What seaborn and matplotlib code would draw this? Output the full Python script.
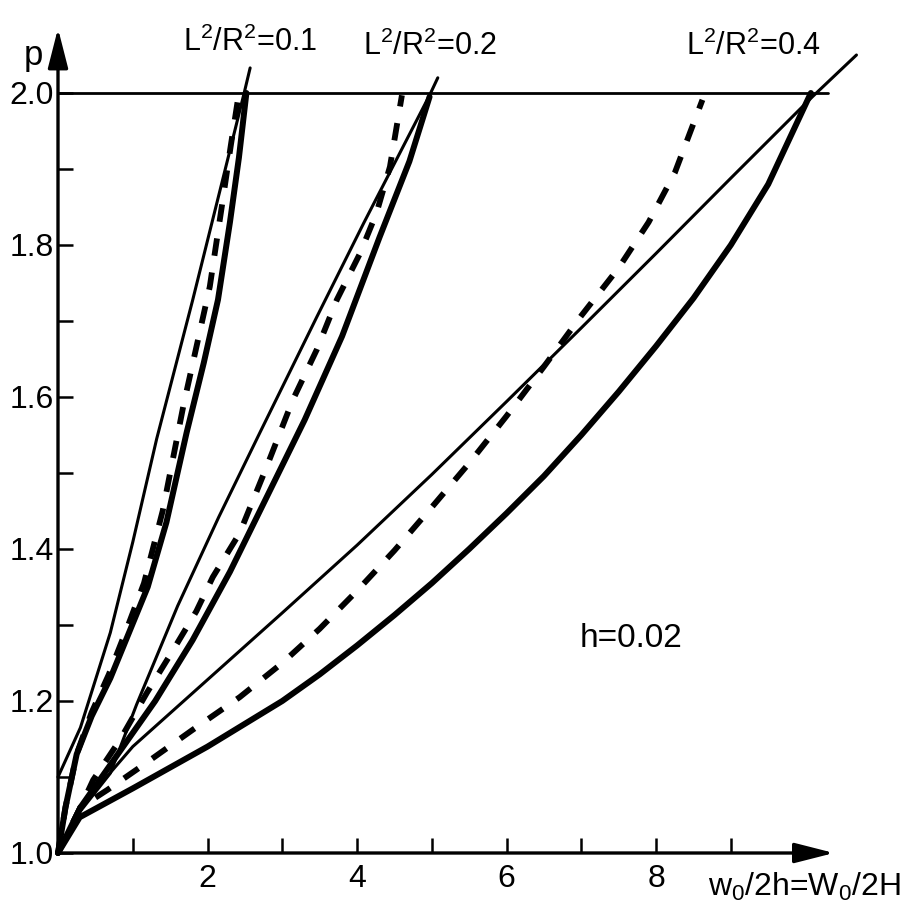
import numpy as np
import pandas as pd
import seaborn as sns
import matplotlib.pyplot as plt
from matplotlib.ticker import FixedLocator

# curves: x = w0/2h, p
thin01_x = [0, 0.3, 0.7, 1.0, 1.32, 1.8, 2.2, 2.49, 2.57]
thin01_p = [1.10, 1.165, 1.29, 1.409, 1.545, 1.727, 1.885, 2.0, 2.033]
dash01_x = [0, 0.1, 0.25, 0.45, 0.68, 0.92, 1.15, 1.4, 1.68, 2.03, 2.19, 2.31, 2.42]
dash01_p = [1.0, 1.06, 1.13, 1.185, 1.235, 1.295, 1.355, 1.45, 1.59, 1.745, 1.85, 1.93, 2.0]
thick01_x = [0, 0.1, 0.25, 0.45, 0.7, 0.95, 1.2, 1.45, 1.72, 1.95, 2.14, 2.3, 2.42, 2.52]
thick01_p = [1.0, 1.06, 1.13, 1.18, 1.23, 1.29, 1.35, 1.435, 1.553, 1.645, 1.728, 1.83, 1.915, 2.0]

thin02_x = [0, 0.3, 0.7, 1.05, 1.6, 2.15, 2.7, 3.46, 4.09, 4.97, 5.08]
thin02_p = [1.0, 1.055, 1.105, 1.195, 1.325, 1.442, 1.553, 1.705, 1.829, 1.997, 2.02]
dash02_x = [0, 0.3, 0.47, 0.83, 1.19, 1.54, 1.85, 2.07, 2.43, 2.79, 3.14, 3.46, 3.73, 4.04, 4.26, 4.44, 4.60]
dash02_p = [1.0, 1.06, 1.096, 1.149, 1.211, 1.267, 1.318, 1.363, 1.421, 1.508, 1.596, 1.662, 1.728, 1.789,
            1.842, 1.903, 1.997]
thick02_x = [0, 0.3, 0.8, 1.3, 1.8, 2.3, 2.8, 3.3, 3.8, 4.3, 4.7, 4.97]
thick02_p = [1.0, 1.06, 1.13, 1.2, 1.28, 1.37, 1.47, 1.57, 1.68, 1.81, 1.91, 1.995]

thin04_x = [0, 0.3, 1.0, 2.0, 3.0, 4.0, 5.0, 6.0, 7.0, 8.0, 9.0, 10.09, 10.68]
thin04_p = [1.0, 1.06, 1.14, 1.228, 1.316, 1.405, 1.498, 1.594, 1.691, 1.789, 1.888, 1.995, 2.05]
dash04_x = [0, 0.3, 0.66, 1.1, 1.8, 2.43, 3.0, 3.5, 4.0, 4.5, 5.0, 5.5, 6.0, 6.5, 7.0, 7.5, 7.9, 8.25, 8.62]
dash04_p = [1.0, 1.06, 1.083, 1.113, 1.162, 1.205, 1.25, 1.295, 1.345, 1.398, 1.455, 1.513, 1.575, 1.64,
            1.707, 1.77, 1.83, 1.895, 1.991]
thick04_x = [0, 0.29, 1.0, 2.0, 3.0, 3.5, 4.0, 4.5, 5.0, 5.5, 6.0, 6.5, 7.0, 7.5, 8.0, 8.5, 9.0, 9.5, 10.07]
thick04_p = [1.0, 1.047, 1.085, 1.14, 1.2, 1.235, 1.273, 1.313, 1.355, 1.4, 1.447, 1.496, 1.55, 1.607,
             1.667, 1.73, 1.8, 1.88, 2.0]

ratio_labels = ['L$^2$/R$^2$=0.1', 'L$^2$/R$^2$=0.2', 'L$^2$/R$^2$=0.4']
y_major = [1.0, 1.2, 1.4, 1.6, 1.8, 2.0]
y_minor = [1.1, 1.3, 1.5, 1.7, 1.9]
x_major = [2, 4, 6, 8]
x_minor = [1, 3, 5, 7, 9]

sns.set_style('white')
plt.rcParams['font.family'] = ['Liberation Sans', 'DejaVu Sans']
plt.rcParams['mathtext.fontset'] = 'custom'
plt.rcParams['mathtext.rm'] = 'Liberation Sans'
plt.rcParams['mathtext.it'] = 'Liberation Sans'
plt.rcParams['text.color'] = 'black'
plt.rcParams['xtick.color'] = 'black'
plt.rcParams['ytick.color'] = 'black'

fig = plt.figure(figsize=(9.2, 9.14), dpi=100)
ax = fig.add_axes([58 / 920, 61 / 914, 785 / 920, 836 / 914])

curves = [
    (thin01_x, thin01_p, 'thin'), (dash01_x, dash01_p, 'dash'), (thick01_x, thick01_p, 'thick'),
    (thin02_x, thin02_p, 'thin'), (dash02_x, dash02_p, 'dash'), (thick02_x, thick02_p, 'thick'),
    (thin04_x, thin04_p, 'thin'), (dash04_x, dash04_p, 'dash'), (thick04_x, thick04_p, 'thick'),
]
styles = {
    'thin': dict(lw=2.2, linestyle='-'),
    'thick': dict(lw=4.3, linestyle='-', solid_capstyle='round', solid_joinstyle='round'),
    'dash': dict(lw=4.2, linestyle=(0, (3.0, 2.9)), dash_capstyle='butt'),
}
for xs, ps, kind in curves:
    df = pd.DataFrame({'x': xs, 'p': ps})
    sns.lineplot(data=df, x='x', y='p', ax=ax, color='k', sort=False, estimator=None,
                 clip_on=False, **styles[kind])

# p = 2.0 limit line
ax.plot([0, 10.3], [2.0, 2.0], color='k', lw=2.0)

ax.set_xlim(0, 10.5)
ax.set_ylim(1.0, 2.1)
for s in ax.spines.values():
    s.set_visible(False)

# axes with arrows
arrow = dict(arrowstyle='-|>,head_length=1.1,head_width=0.28', color='k', lw=2.4,
             mutation_scale=22, shrinkA=0, shrinkB=0)
ax.annotate('', xy=(0, 2.085), xytext=(0, 1.0), arrowprops=arrow, annotation_clip=False)
ax.annotate('', xy=(10.38, 1.0), xytext=(0, 1.0), arrowprops=arrow, annotation_clip=False)

ax.yaxis.set_major_locator(FixedLocator(y_major))
ax.yaxis.set_minor_locator(FixedLocator(y_minor))
ax.xaxis.set_major_locator(FixedLocator(x_major))
ax.xaxis.set_minor_locator(FixedLocator(x_minor))
ax.set_yticklabels([f'{v:.1f}' for v in y_major])
ax.set_xticklabels([str(v) for v in x_major])
ax.tick_params(axis='both', which='both', direction='in', length=11, width=1.8, color='k',
               labelsize=23, labelcolor='k', left=True, bottom=True)
ax.tick_params(axis='y', pad=3)
ax.tick_params(axis='x', pad=8)
ax.set_xlabel('')
ax.set_ylabel('')

ax.text(-0.2, 2.05, 'p', fontsize=25, ha='right', va='center')
ax.text(9.99, 0.955, 'w$_0$/2h=W$_0$/2H', fontsize=23, ha='center', va='center')
ax.text(7.66, 1.282, 'h=0.02', fontsize=24, ha='center', va='center')
label_pos = [(2.57, 2.066), (4.97, 2.062), (9.30, 2.062)]
for (lx, ly), lab in zip(label_pos, ratio_labels):
    ax.text(lx, ly, lab, fontsize=22, ha='center', va='center')

plt.savefig('out.png', dpi=100)
